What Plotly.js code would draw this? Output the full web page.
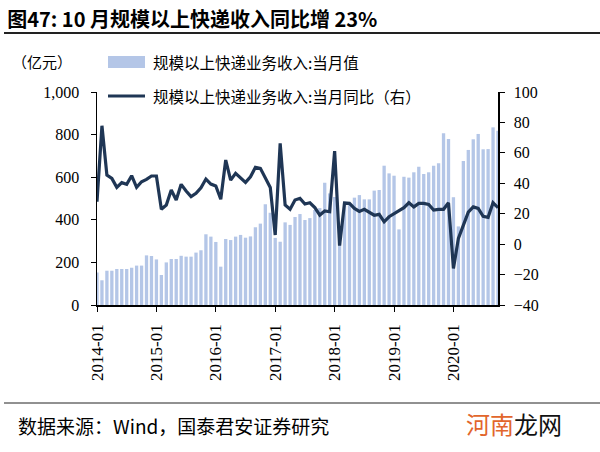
<!DOCTYPE html>
<html>
<head>
<meta charset="utf-8">
<script src="https://cdn.plot.ly/plotly-3.0.1.min.js"></script>
<style>html,body{margin:0;padding:0;background:#fff}#chart{width:600px;height:452px}</style>
</head>
<body>
<div id="chart"></div>
<script>
const months = [
 "2014-01","2014-02","2014-03","2014-04","2014-05","2014-06","2014-07","2014-08","2014-09","2014-10","2014-11","2014-12",
 "2015-01","2015-02","2015-03","2015-04","2015-05","2015-06","2015-07","2015-08","2015-09","2015-10","2015-11","2015-12",
 "2016-01","2016-02","2016-03","2016-04","2016-05","2016-06","2016-07","2016-08","2016-09","2016-10","2016-11","2016-12",
 "2017-01","2017-02","2017-03","2017-04","2017-05","2017-06","2017-07","2017-08","2017-09","2017-10","2017-11","2017-12",
 "2018-01","2018-02","2018-03","2018-04","2018-05","2018-06","2018-07","2018-08","2018-09","2018-10","2018-11","2018-12",
 "2019-01","2019-02","2019-03","2019-04","2019-05","2019-06","2019-07","2019-08","2019-09","2019-10","2019-11","2019-12",
 "2020-01","2020-02","2020-03","2020-04","2020-05","2020-06","2020-07","2020-08","2020-09","2020-10"
];
// 规模以上快递业务收入:当月值 (亿元)
const revenue = [
 152,116,161,161,169,169,169,175,185,185,233,230,
 214,141,200,216,216,231,227,227,246,257,332,321,
 296,180,310,305,321,329,316,322,365,382,473,433,
 315,297,388,376,413,427,399,408,446,455,574,524,
 507,294,485,477,504,516,496,496,537,540,654,618,
 607,355,602,598,623,649,615,623,654,665,806,779,
 506,369,676,728,778,803,731,732,834,818
];
// 规模以上快递业务收入:当月同比 (%)
const yoy = [
 27.9,77.8,45.4,43.2,37.3,40.4,39.3,45.0,37.3,41.0,42.6,44.8,
 44.8,22.9,25.7,35.6,29.0,39.3,34.9,31.2,33.4,37.1,42.8,39.5,
 38.2,29.5,55.3,42.1,46.5,43.2,40.6,44.3,50.5,49.8,43.2,37.3,
 6.0,66.3,25.7,22.9,29.0,30.1,26.4,27.2,24.0,19.1,21.8,21.3,
 61.2,-1.0,27.0,26.8,23.5,21.5,22.9,21.0,19.0,19.6,14.7,18.0,
 20.2,21.8,24.0,27.2,24.5,26.8,26.8,26.1,22.4,22.9,22.9,27.2,
 -16.0,3.8,12.6,21.0,24.5,23.5,18.3,17.6,27.2,24.0
];
const tickLabels = ["2014-01","2015-01","2016-01","2017-01","2018-01","2019-01","2020-01"];
const barName = "规模以上快递业务收入:当月值";
const lineName = "规模以上快递业务收入:当月同比（右）";
const titleText = "图47: 10 月规模以上快递收入同比增 23%";
const sourceText = "数据来源：Wind，国泰君安证券研究";
const unitText = "（亿元）";

const tickIdx = tickLabels.map(t => months.indexOf(t));
const serif = "Liberation Serif, Noto Sans CJK SC, serif";
const cjk = "Noto Sans CJK SC, sans-serif";
const barColor = '#b4c6e7';
const lineColor = '#1f3655';

const L = 97, R = 498, T = 92, B = 305;
const W = 600, H = 452;
const px = x => (x - L) / (R - L);
const py = y => (B - y) / (B - T);

const traces = [
 {type:'bar', x: months.map((m,i)=>i), y: revenue, name: barName,
  marker:{color:barColor}, xaxis:'x', yaxis:'y'},
 {type:'scatter', mode:'lines', x: months.map((m,i)=>i), y: yoy, name: lineName,
  line:{color:lineColor, width:3.2}, xaxis:'x', yaxis:'y2'}
];

const layout = {
 width: W, height: H,
 margin:{l:L, r:W-R, t:T, b:H-B, pad:0},
 paper_bgcolor:'#fff', plot_bgcolor:'#fff',
 font:{family:serif, size:15, color:'#000'},
 showlegend:false,
 bargap:0.33,
 title:{text:'<b>'+titleText+'</b>', x:0.012, xanchor:'left', y:0.955, yanchor:'middle',
        font:{family:cjk, size:20, color:'#000'}},
 xaxis:{range:[0, months.length-1], tickmode:'array', tickvals:tickIdx, ticktext:tickLabels,
        tickangle:-90, ticks:'outside', ticklen:5, tickcolor:'#000', showline:true, linecolor:'#000',
        linewidth:1.5, showgrid:false, zeroline:false, ticklabelstandoff:6, tickfont:{family:serif, size:17}},
 yaxis:{range:[0,1000], dtick:200, tickformat:',d', ticks:'outside', ticklen:5, tickcolor:'#000',
        showline:true, linecolor:'#000', linewidth:1.5, showgrid:false, zeroline:false,
        ticklabelstandoff:8, tickfont:{family:serif, size:16}},
 yaxis2:{range:[-40,100], dtick:20, overlaying:'y', side:'right', anchor:'x', ticks:'outside', ticklen:5,
        tickcolor:'#000', showline:true, linecolor:'#000', linewidth:1.5, showgrid:false, zeroline:false,
        ticklabelstandoff:6, tickfont:{family:serif, size:16}},
 shapes:[
  {type:'line', xref:'paper', yref:'paper', x0:px(4), x1:px(600), y0:py(33), y1:py(33), line:{color:'#222', width:2}},
  {type:'line', xref:'paper', yref:'paper', x0:px(4), x1:px(600), y0:py(403), y1:py(403), line:{color:'#222', width:1}},
  {type:'rect', xref:'paper', yref:'paper', x0:px(108), x1:px(145), y0:py(56), y1:py(68), line:{width:0}, fillcolor:barColor},
  {type:'line', xref:'paper', yref:'paper', x0:px(108), x1:px(145), y0:py(96), y1:py(96), line:{color:lineColor, width:3.2}}
 ],
 annotations:[
  {text:barName, xref:'paper', yref:'paper', x:px(151), y:py(62), xanchor:'left', yanchor:'middle',
   showarrow:false, font:{family:cjk, size:15.5}},
  {text:lineName, xref:'paper', yref:'paper', x:px(151), y:py(96), xanchor:'left', yanchor:'middle',
   showarrow:false, font:{family:cjk, size:15.5}},
  {text:unitText, xref:'paper', yref:'paper', x:px(10), y:py(62), xanchor:'left', yanchor:'middle',
   showarrow:false, font:{family:cjk, size:15}},
  {text:sourceText, xref:'paper', yref:'paper', x:px(16), y:py(425), xanchor:'left', yanchor:'middle',
   showarrow:false, font:{family:'Noto Sans CJK SC, Liberation Serif, serif', size:19}},
  {text:'<span style="color:#e2662c">河南</span>龙网', xref:'paper', yref:'paper', x:px(464), y:py(423),
   xanchor:'left', yanchor:'middle', showarrow:false,
   font:{family:cjk, size:24, color:'#111'}}
 ]
};

Plotly.newPlot('chart', traces, layout, {staticPlot:true, displayModeBar:false});
</script>
</body>
</html>
